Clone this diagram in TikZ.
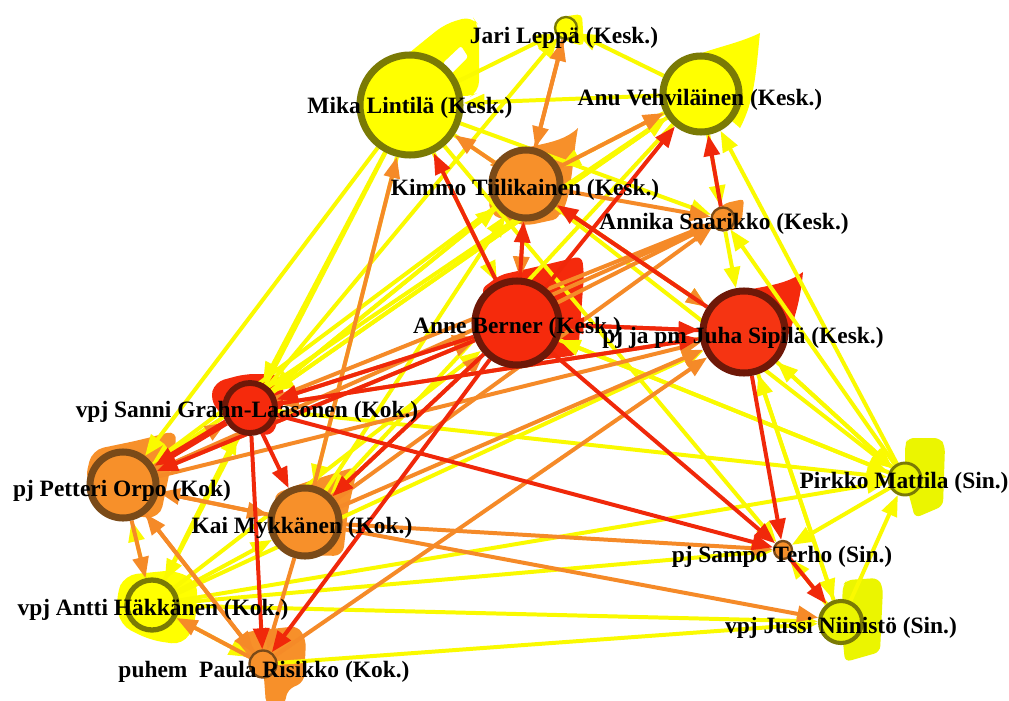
\documentclass[tikz,border=0pt]{standalone}
\usepackage{fontspec}
\setmainfont{Liberation Serif}
\usetikzlibrary{arrows.meta}
\pgfdeclarelayer{loops}
\pgfdeclarelayer{edges}
\pgfsetlayers{loops,edges,main}
\definecolor{cy}{HTML}{FFFF00}
\definecolor{cyb}{HTML}{7A7A05}
\definecolor{co}{HTML}{F7902A}
\definecolor{cob}{HTML}{7A4A18}
\definecolor{cr}{HTML}{F52A0C}
\definecolor{crb}{HTML}{6E1808}
\definecolor{cey}{HTML}{FAFA00}
\definecolor{ceo}{HTML}{F58A28}
\definecolor{cer}{HTML}{F0280A}
\definecolor{cyg}{HTML}{EBF500}
\begin{document}
\begin{tikzpicture}[x=0.03cm,y=-0.03cm,
 nd/.style={circle,inner sep=0pt,minimum size=#1*0.06cm},
 ynd/.style={fill=cy,draw=cyb},
 ond/.style={fill=co,draw=cob},
 rnd/.style={fill=cr,draw=crb},
 lbl/.style={font=\bfseries\fontsize{20}{22}\selectfont,inner sep=0pt},
 edgebase/.style={line width=3.4pt,-{Triangle[length=18pt,width=13.5pt]}},
 ey/.style={edgebase,draw=cey},
 eo/.style={edgebase,draw=ceo},
 er/.style={edgebase,draw=cer}]
\useasboundingbox (0,0) rectangle (1009,700);

% nodes
\node[nd=50,ynd,line width=6pt] (ML) at (410,105) {};
\node[nd=11,ynd,line width=2pt] (JL) at (566,28) {};
\node[nd=38,ynd,line width=6pt] (AV) at (701,94) {};
\node[nd=34,ond,line width=6pt] (KT) at (526,184) {};
\node[nd=11.5,ond,line width=2pt] (AS) at (723,219) {};
\node[nd=42,rnd,line width=6pt] (AB) at (517,323) {};
\node[nd=41,rnd,line width=6pt,fill={rgb,255:red,245;green,52;blue,18}] (JS) at (744,332) {};
\node[nd=25,rnd,line width=5pt] (SG) at (250,408) {};
\node[nd=33,ond,line width=6pt] (PO) at (123,485) {};
\node[nd=34,ond,line width=6pt] (KM) at (305,522) {};
\node[nd=16,ynd,line width=2.5pt,fill=cyg] (PM) at (905,479) {};
\node[nd=9,ond,line width=2pt] (ST) at (783,550) {};
\node[nd=21,ynd,line width=3.5pt,fill=cyg] (JN) at (841,622) {};
\node[nd=25,ynd,line width=4.5pt] (AH) at (152,605) {};
\node[nd=13.5,ond,line width=2pt] (PR) at (263,664) {};

% self loops
\begin{pgfonlayer}{loops}
\fill[white] (0,0) rectangle (1009,700);
\fill[cy,rounded corners=9] (398,62) -- (425,40) -- (445,24) -- (472,16) -- (479,26) -- (479,92) -- (468,98) -- (452,94) -- cycle;
\fill[white,rounded corners=2] (443,63) -- (461,46) -- (468,57) -- (451,74) -- cycle;
\fill[cy,rounded corners=4] (553,32) -- (560,17) -- (582,14) -- (584,46) -- (568,42) -- cycle;
\fill[cy] (664,78) .. controls (685,50) and (725,50) .. (760,33) .. controls (756,70) and (755,100) .. (740,128) -- (701,94) -- cycle;
\fill[co] (490,165) .. controls (520,140) and (555,150) .. (578,128) .. controls (572,160) and (572,200) .. (560,215) -- (526,184) -- cycle;
\fill[co,rounded corners=8] (488,180) -- (505,160) -- (545,160) -- (562,218) -- (525,226) -- (490,215) -- cycle;
\fill[co,rounded corners=3] (714,212) -- (726,203) -- (744,199) -- (742,220) -- (732,232) -- cycle;
\fill[cr,rounded corners=6] (480,290) -- (500,275) -- (540,266) -- (582,256) -- (584,275) -- (578,355) -- (540,360) -- cycle;
\fill[cr] (718,300) .. controls (745,285) and (780,290) .. (803,272) .. controls (800,305) and (792,330) .. (778,356) -- (744,332) -- cycle;
\fill[cr,rounded corners=8] (210,400) -- (215,382) -- (245,374) -- (280,374) -- (285,400) -- (272,437) -- (230,425) -- cycle;
\fill[co,rounded corners=10] (85,480) -- (92,450) -- (140,440) -- (178,430) -- (168,480) -- (160,518) -- (110,515) -- cycle;
\fill[co,rounded corners=8] (272,495) -- (300,484) -- (358,466) -- (348,510) -- (343,556) -- (300,555) -- cycle;
\fill[cyg,rounded corners=5] (905,445) -- (908,438) -- (940,438) -- (945,446) -- (943,506) -- (915,518) -- (905,480) -- cycle;
\fill[cyg,rounded corners=5] (843,585) -- (847,580) -- (878,578) -- (883,588) -- (880,652) -- (845,662) -- (841,622) -- cycle;
\fill[cy,rounded corners=10] (116,595) -- (125,575) -- (175,570) -- (198,582) -- (195,625) -- (183,645) -- (150,640) -- (120,625) -- cycle;
\fill[co,rounded corners=6] (228,650) -- (245,632) -- (298,626) -- (306,640) -- (304,682) -- (287,690) -- (285,705) -- (266,705) -- (263,664) -- cycle;
\end{pgfonlayer}

% edges
\begin{pgfonlayer}{edges}
\foreach \a/\b in {ML/JL, SG/JL, AV/JL, AV/ML, ML/AS, AV/KT, AV/AS, PM/AV, PM/AS, AS/JS,
  ML/AB, ML/JS, ML/PO, ML/AH, ML/KM, ML/SG, ML/ST, KT/PO, KT/SG, SG/KT, SG/AV, PO/AV,
  AV/SG, AV/KM, JS/PM, PM/JS, JN/JS, JN/PM, PM/ST, JN/ST, JS/JN, AH/JN, PR/JN, AH/ST,
  SG/PM, AB/PM, KT/PM, AH/PO, AH/PR, AH/KM, AH/SG, AH/AB, AH/JS, AH/PM, PM/AB, KM/KT}
  \draw[ey] (\a) -- (\b);
\foreach \a/\b in {KT/JL, JL/KT, KT/ML, KT/AV, KT/AS, KT/AB, KT/JS, AB/AS, SG/AS, PO/AS,
  KM/AS, PO/SG, PO/KM, KM/PO, PO/AH, PR/PO, PO/PR, PR/AH, KM/PR, KM/JN, KM/ST, KM/JS,
  PR/JS, PO/JS, SG/AB, PO/AB, KM/AB, KM/ML, JS/SG}
  \draw[eo] (\a) -- (\b);
\foreach \a/\b in {AB/ML, AB/AV, AB/KT, AB/JS, JS/AB, JS/KT, JS/ST, SG/ST, AB/ST, ST/JN,
  SG/KM, SG/PR, AB/PR, AB/KM, AB/PO, SG/JS, AS/AV, AB/SG}
  \draw[er] (\a) -- (\b);
\draw[er,line width=5.5pt] (SG) -- (PO);
\end{pgfonlayer}

% labels
\node[lbl] (lJL) at (564,38) {Jari Leppä (Kesk.)};
\node[lbl] (lML) at (410,108) {Mika Lintilä (Kesk.)};
\node[lbl] (lAV) at (700,100) {Anu Vehviläinen (Kesk.)};
\node[lbl] (lKT) at (525,190) {Kimmo Tiilikainen (Kesk.)};
\node[lbl] (lAS) at (724,224) {Annika Saarikko (Kesk.)};
\node[lbl] (lAB) at (517,328) {Anne Berner (Kesk.)};
\node[lbl] (lJS) at (743,338) {pj ja pm Juha Sipilä (Kesk.)};
\node[lbl] (lSG) at (247,412) {vpj Sanni Grahn-Laasonen (Kok.)};
\node[lbl] (lPO) at (122,491) {pj Petteri Orpo (Kok)};
\node[lbl] (lKM) at (302,528) {Kai Mykkänen (Kok.)};
\node[lbl] (lPM) at (904,483) {Pirkko Mattila (Sin.)};
\node[lbl] (lST) at (782,557) {pj Sampo Terho (Sin.)};
\node[lbl] (lJN) at (841,628) {vpj Jussi Niinistö (Sin.)};
\node[lbl] (lAH) at (153,610) {vpj Antti Häkkänen (Kok.)};
\node[lbl] (lPR) at (264,672) {puhem\ \ Paula Risikko (Kok.)};
\end{tikzpicture}
\end{document}
